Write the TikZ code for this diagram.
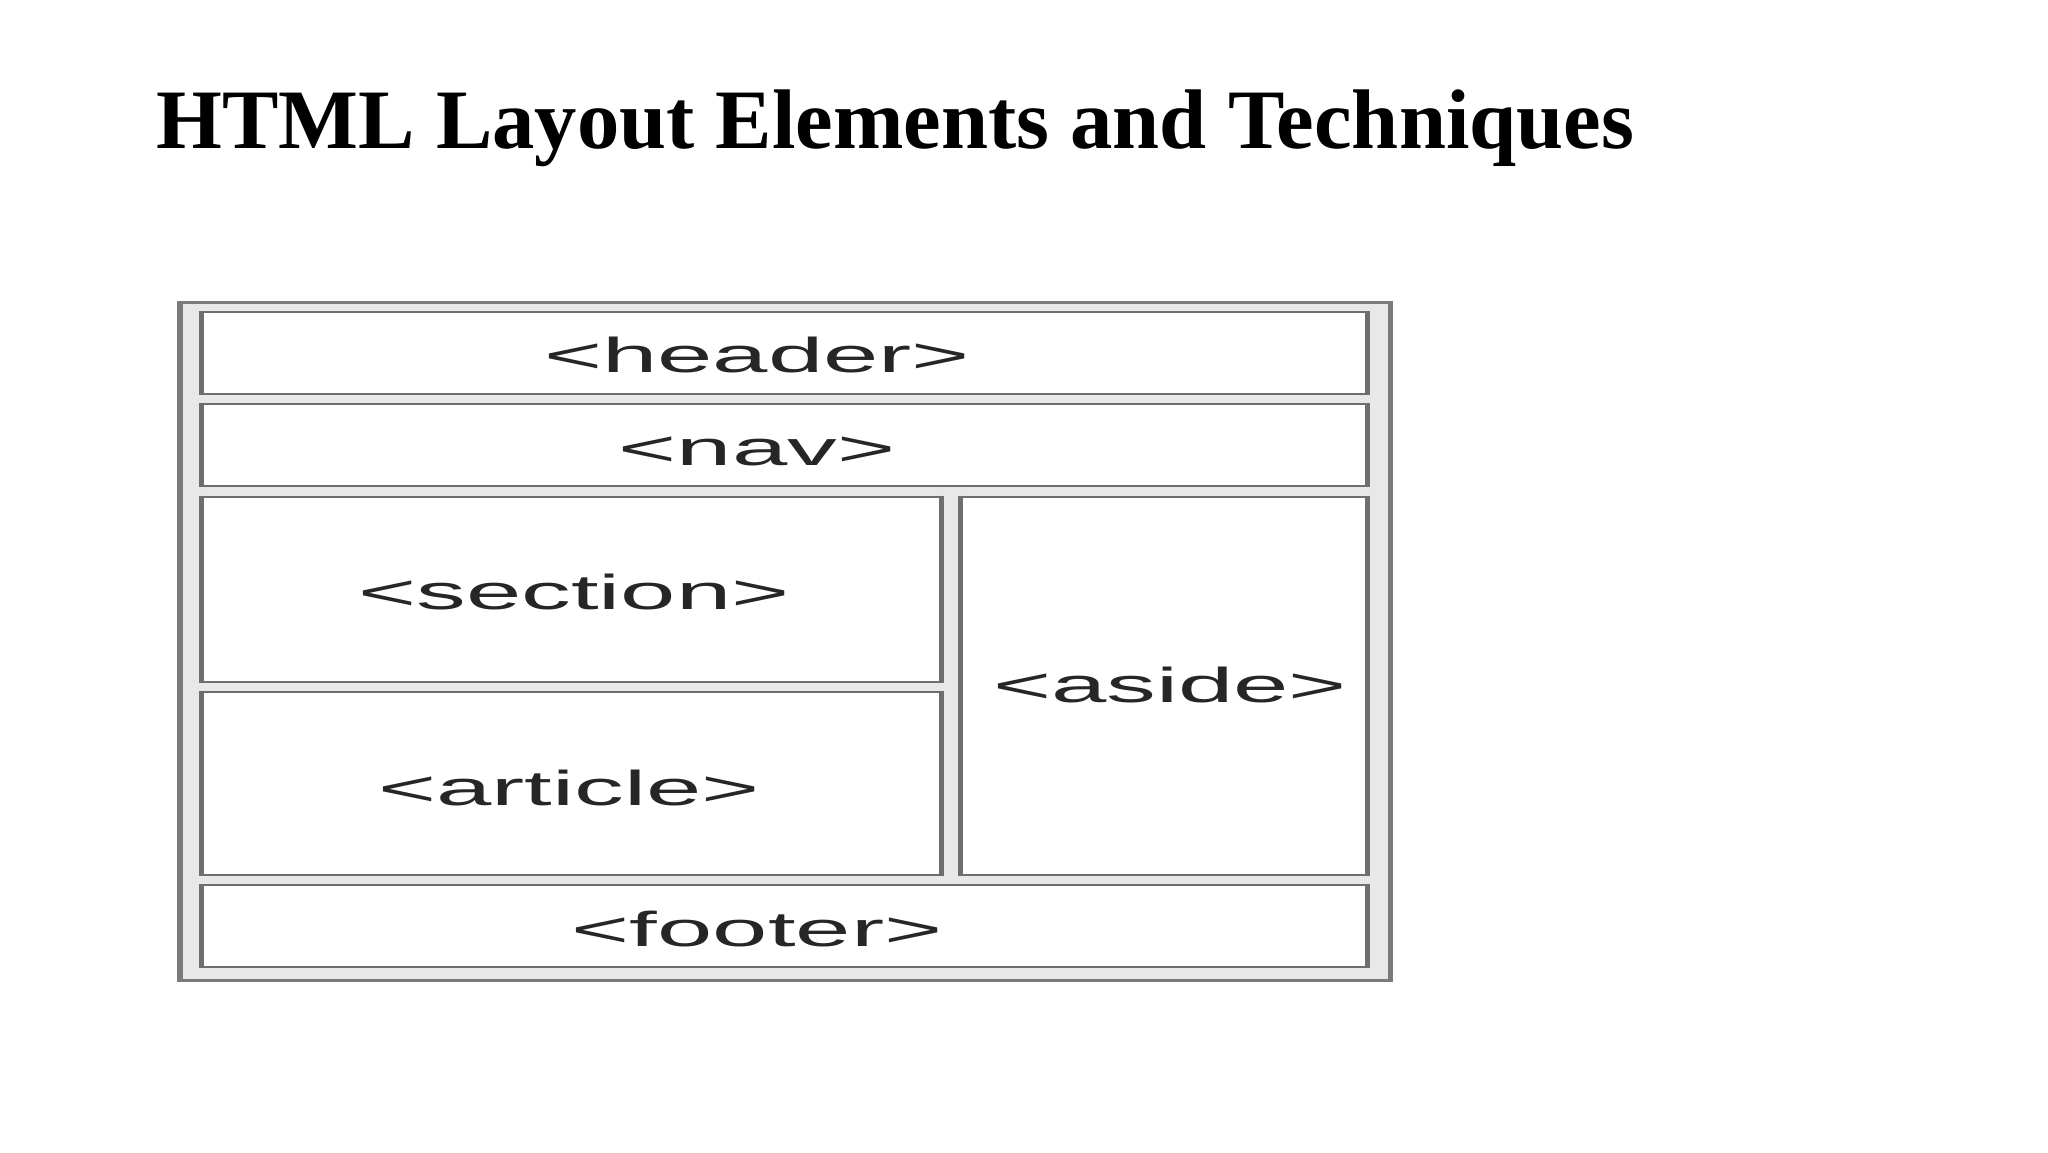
\documentclass[tikz,border=0pt]{standalone}
\usepackage{fontspec}
\setmainfont{Liberation Serif}
\newfontfamily\lblfont{Liberation Sans}
\usetikzlibrary{fit}
\definecolor{frame}{HTML}{7A7A7A}
\definecolor{edge}{HTML}{6E6E6E}
\definecolor{gap}{HTML}{E8E8E8}
\definecolor{lbl}{HTML}{262626}
\tikzset{
  outerbox/.style={draw=frame, fill=gap, line width=1.5pt, inner sep=0pt},
  cellbox/.style={draw=edge, fill=white, line width=1.4pt, inner sep=0pt},
  vedge/.style={draw=edge, line width=2.4pt},
  celltext/.style={anchor=base, inner sep=0pt, text=lbl, font=\lblfont\fontsize{24.5}{28}\selectfont},
  titletext/.style={anchor=base west, inner sep=0pt, font=\bfseries\fontsize{42.3}{48}\selectfont}
}
\newcommand{\wide}[1]{\scalebox{2.03}[1]{#1}}
\begin{document}
\begin{tikzpicture}[x=0.5pt,y=-0.5pt]
\useasboundingbox (0,0) rectangle (2048,1152);
\node[titletext] (title) at (156,148) {HTML Layout Elements and Techniques};
\node[outerbox, fit={(181,302) (1389,980)}] (outer) {};
\node[cellbox, fit={(203,312) (1366,394)}] (header) {};
\node[cellbox, fit={(203,404) (1366,486)}] (nav) {};
\node[cellbox, fit={(203,497) (940,682)}] (section) {};
\node[cellbox, fit={(203,692) (940,875)}] (article) {};
\node[cellbox, fit={(962,497) (1366,875)}] (aside) {};
\node[cellbox, fit={(203,885) (1366,967)}] (footer) {};
\foreach \b in {header,nav,section,article,aside,footer}{
  \draw[vedge] (\b.north west) -- (\b.south west);
  \draw[vedge] (\b.north east) -- (\b.south east);
}
\draw[draw=frame, line width=2.4pt] (outer.north west) -- (outer.south west);
\draw[draw=frame, line width=2.4pt] (outer.north east) -- (outer.south east);
\node[celltext] (headerlbl) at (757,372) {\wide{<header>}};
\node[celltext] (navlbl) at (757,465) {\wide{<nav>}};
\node[celltext] (sectionlbl) at (574,609) {\wide{<section>}};
\node[celltext] (articlelbl) at (569,805) {\wide{<article>}};
\node[celltext] (asidelbl) at (1170,702) {\wide{<aside>}};
\node[celltext] (footerlbl) at (757,946) {\wide{<footer>}};
\end{tikzpicture}
\end{document}
